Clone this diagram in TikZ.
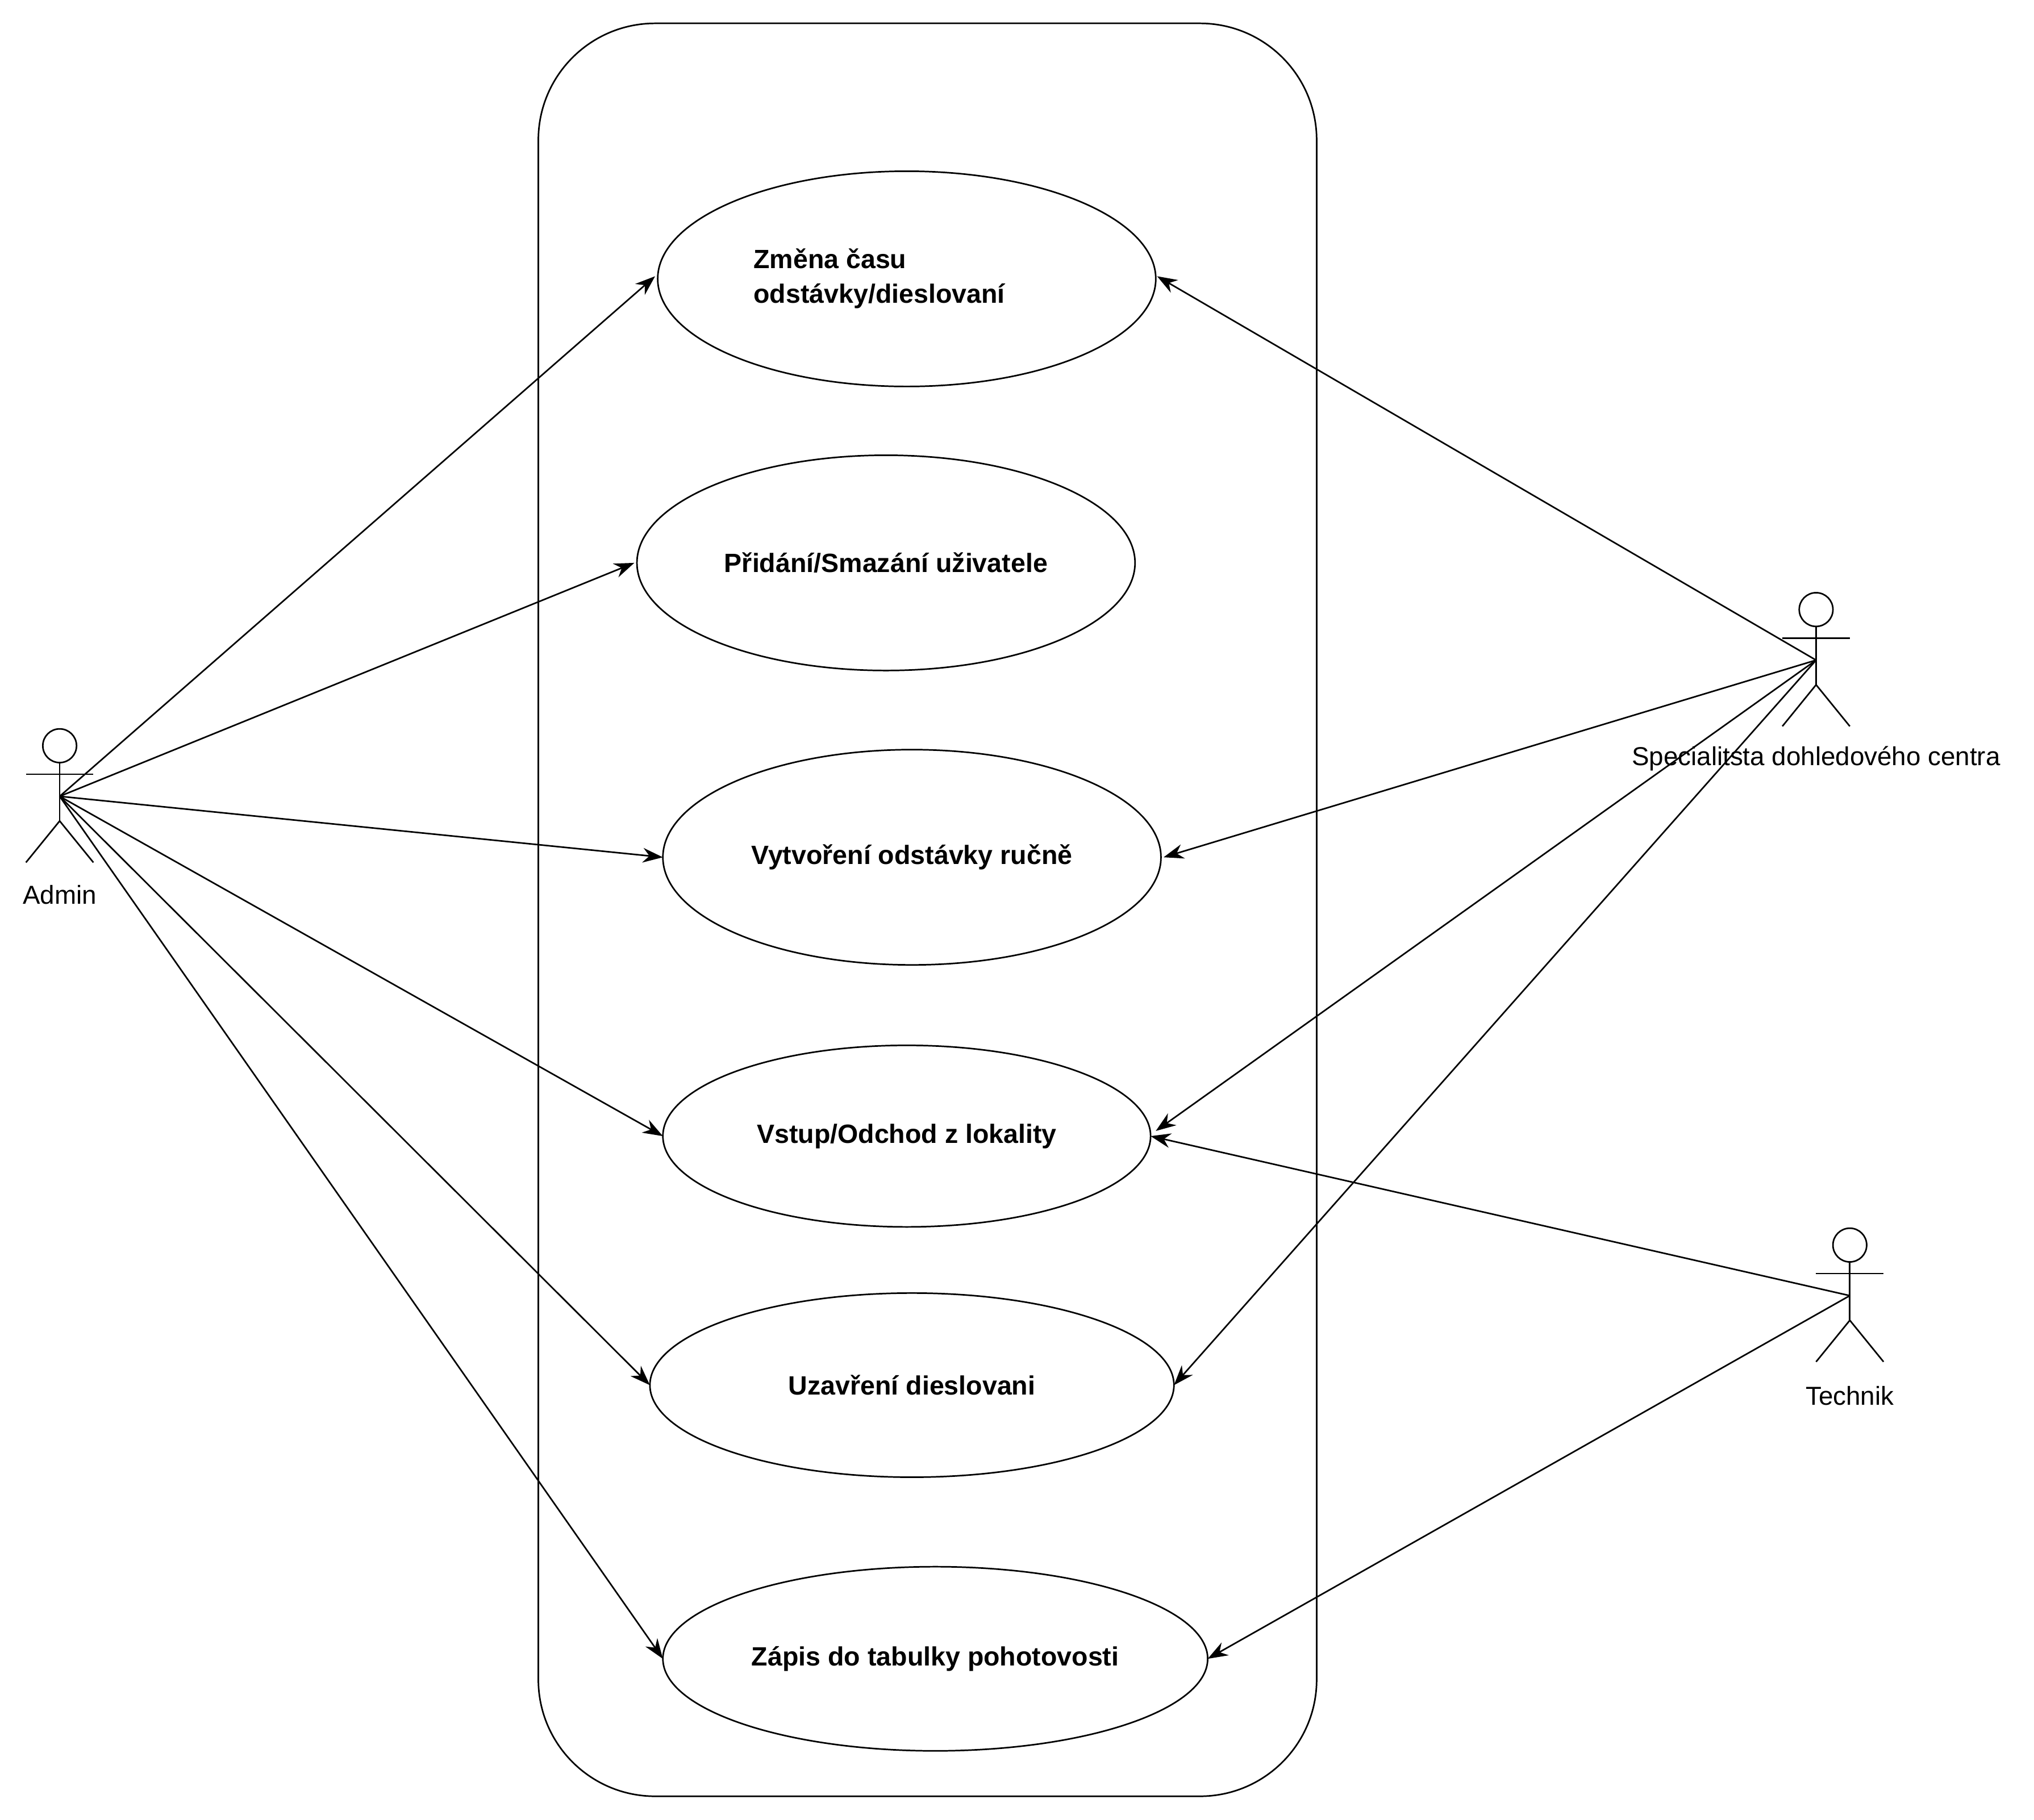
\documentclass[tikz,border=0pt]{standalone}
\usepackage{fontspec}
\setmainfont{Liberation Sans}
\usetikzlibrary{shapes.geometric,arrows.meta}
\begin{document}
\begin{tikzpicture}[x=0.05cm,y=-0.05cm,line width=1.7pt,
  uc/.style={draw,ellipse,minimum width=#1,font=\fontsize{29}{36}\selectfont\bfseries},
  lab/.style={font=\fontsize{28.5}{34}\selectfont},
  arr/.style={-{Stealth[length=22pt,width=16pt]}}]
\useasboundingbox (0,0) rectangle (1568,1403);
\draw[rounded corners=4.5cm] (415,18) rectangle (1015,1385);
\node[uc=19.2cm,minimum height=8.3cm] (u1) at (699,215) {};
\node[font=\fontsize{29}{38}\selectfont\bfseries,align=left,anchor=west] (t1) at (578,215) {Změna času\\odstávky/dieslovaní};
\node[uc=19.2cm,minimum height=8.3cm] (u2) at (683,434) {Přidání/Smazání uživatele};
\node[uc=19.2cm,minimum height=8.3cm] (u3) at (703,661) {Vytvoření odstávky ručně};
\node[uc=18.8cm,minimum height=7cm] (u4) at (699,876) {Vstup/Odchod z lokality};
\node[uc=20.2cm,minimum height=7.1cm] (u5) at (703,1068) {Uzavření dieslovani};
\node[uc=21cm,minimum height=7.1cm] (u6) at (721,1279) {Zápis do tabulky pohotovosti};
% actors
\newcommand{\actor}[3]{%
  \draw (#1,#2) circle (13);
  \draw (#1,#2+13) -- (#1,#2+58);
  \draw (#1-26,#2+22) -- (#1+26,#2+22);
  \draw (#1-26,#2+90) -- (#1,#2+58) -- (#1+26,#2+90);
  \coordinate (#3) at (#1,#2+39);}
\actor{46}{575}{ad}
\actor{1400}{470}{sp}
\actor{1426}{960}{te}
\node[lab] (la) at (46,690) {Admin};
\node[lab] (ls) at (1400,585) {Specialitsta dohledového centra};
\node[lab] (lt) at (1426,1076) {Technik};
\foreach \t/\p in {u1/{(505,213)},u2/{(489,434)},u3/{(511,661)},u4/{(511,876)},u5/{(501,1068)},u6/{(511,1279)}}
  \draw[arr] (ad) -- \p;
\foreach \p in {(892,213),(897,661),(891,872),(905,1068)}
  \draw[arr] (sp) -- \p;
\draw[arr] (te) -- (887,876);
\draw[arr] (te) -- (931,1279);
\end{tikzpicture}
\end{document}
